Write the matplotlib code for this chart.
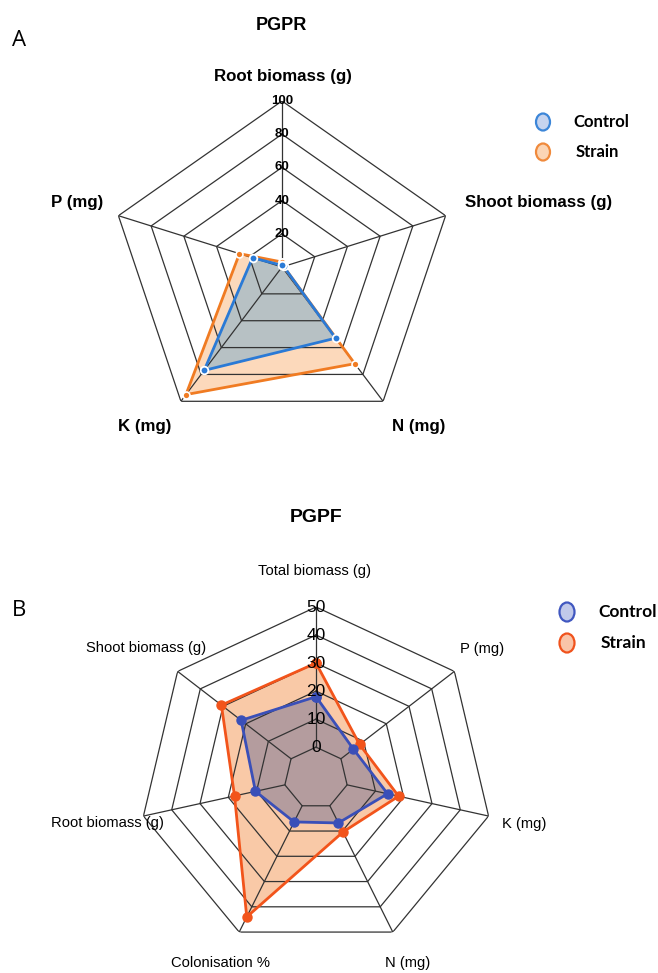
import numpy as np
import matplotlib.pyplot as plt
from matplotlib.patches import Ellipse

W, H = 658, 973

# PGPR panel
pgpr_axes = ['Root biomass (g)', 'Shoot biomass (g)', 'N (mg)', 'K (mg)', 'P (mg)']
pgpr_control = [1, 1, 53, 77, 18]
pgpr_strain = [3, 1, 72, 95, 26]
pgpr_ticks = [20, 40, 60, 80, 100]

# PGPF panel
pgpf_axes = ['Total biomass (g)', 'P (mg)', 'K (mg)', 'N (mg)', 'Colonisation %',
             'Root biomass (g)', 'Shoot biomass (g)']
pgpf_control = [18, 5.5, 14.3, 6.8, 6.4, 10.4, 22]
pgpf_strain = [30, 8.2, 18.2, 10.4, 44, 17.8, 30.7]
pgpf_ticks = [0, 10, 20, 30, 40, 50]

series_names = ['Control', 'Strain']

fig = plt.figure(figsize=(W / 100, H / 100), dpi=100)


def fx(x):
    return x / W


def fy(y):
    return 1 - y / H


def radar(cx, cy, rx, ry, n, rmin, rmax, rings, spoke_from):
    ax = fig.add_axes([fx(cx - rx), fy(cy + ry), 2 * rx / W, 2 * ry / H],
                      projection='polar')
    ax.set_theta_zero_location('N')
    ax.set_theta_direction(-1)
    ax.set_ylim(rmin, rmax)
    ax.set_aspect('auto')
    ax.axis('off')
    theta = np.linspace(0, 2 * np.pi, n, endpoint=False)
    closed = np.append(theta, theta[0])
    for r in rings:
        ax.plot(closed, [r] * (n + 1), color='#333333', lw=0.9, zorder=3)
    for t in theta:
        ax.plot([t, t], [spoke_from, rmax], color='#333333', lw=0.9, zorder=3)
    return ax, closed


def close(v):
    return list(v) + [v[0]]


# ---- A: PGPR ----
ax1, th1 = radar(282, 267, 172, 166, len(pgpr_axes), 0, 100, pgpr_ticks, 0)
ax1.fill(th1, close(pgpr_strain), color='#fcd9bb', zorder=1)
ax1.fill(th1, close(pgpr_control), color='#b7c1c4', zorder=2)
ax1.plot(th1, close(pgpr_strain), color='#f07b22', lw=2, marker='o', ms=5,
         mfc='#f07b22', mec='white', mew=1.2, zorder=4)
ax1.plot(th1, close(pgpr_control), color='#2a7ad6', lw=2, marker='o', ms=5.5,
         mfc='#2a7ad6', mec='white', mew=1.3, zorder=5)
for t in pgpr_ticks:
    ax1.text(0, t, str(t), ha='center', va='center', fontsize=9.5,
             fontweight='bold', family='Liberation Sans', zorder=6)

lab1 = [(283, 77), (539, 203), (419, 426), (145, 426), (77, 202)]
for name, (x, y) in zip(pgpr_axes, lab1):
    fig.text(fx(x), fy(y), name, ha='center', va='center', fontsize=12.2,
             fontweight='bold', family='Liberation Sans')

fig.text(fx(281), fy(25), 'PGPR', ha='center', va='center', fontsize=13,
         fontweight='bold', family='Liberation Sans')
fig.text(fx(19), fy(41), 'A', ha='center', va='center', fontsize=16, family='Open Sans')

leg1 = [('#3c86d8', '#c6d4ef', 543, 122, 573), ('#f08a3c', '#fbd5b5', 543, 152, 576)]
for name, (ec, fc, x, y, tx) in zip(series_names, leg1):
    fig.patches.append(Ellipse((fx(x), fy(y)), 14 / W, 17 / H, transform=fig.transFigure,
                               facecolor=fc, edgecolor=ec, lw=1.6))
    fig.text(fx(tx), fy(y), name, ha='left', va='center', fontsize=12,
             fontweight='bold', family='Lato')

# ---- B: PGPF ----
ax2, th2 = radar(316, 778, 177, 171, len(pgpf_axes), -11, 50, pgpf_ticks, 0)
ax2.fill(th2, close(pgpf_strain), color='#f9c9a7', zorder=1)
ax2.fill(th2, close(pgpf_control), color='#b49c9e', zorder=2)
ax2.plot(th2, close(pgpf_strain), color='#f2541b', lw=2, marker='o', ms=6.5,
         zorder=4)
ax2.plot(th2, close(pgpf_control), color='#3a4fb8', lw=2, marker='o', ms=6.5,
         zorder=5)
for t in pgpf_ticks:
    ax2.text(0, t, str(t), ha='center', va='center', fontsize=12.5,
             family='Liberation Sans', zorder=6)

lab2 = [(315, 571), (482, 649), (524, 824), (408, 963), (221, 963), (107, 823), (146, 648)]
for name, (x, y) in zip(pgpf_axes, lab2):
    fig.text(fx(x), fy(y), name, ha='center', va='center', fontsize=10.6,
             family='Liberation Sans')

fig.text(fx(316), fy(518), 'PGPF', ha='center', va='center', fontsize=14,
         fontweight='bold', family='Liberation Sans')
fig.text(fx(19), fy(611), 'B', ha='center', va='center', fontsize=16, family='Open Sans')

leg2 = [('#4057c0', '#c1c9ea', 567, 612, 598), ('#f0521c', '#f9c4a8', 567, 643, 601)]
for name, (ec, fc, x, y, tx) in zip(series_names, leg2):
    fig.patches.append(Ellipse((fx(x), fy(y)), 15 / W, 19 / H, transform=fig.transFigure,
                               facecolor=fc, edgecolor=ec, lw=1.6))
    fig.text(fx(tx), fy(y), name, ha='left', va='center', fontsize=12.5,
             fontweight='bold', family='Lato')

fig.savefig('out.png', dpi=100)
